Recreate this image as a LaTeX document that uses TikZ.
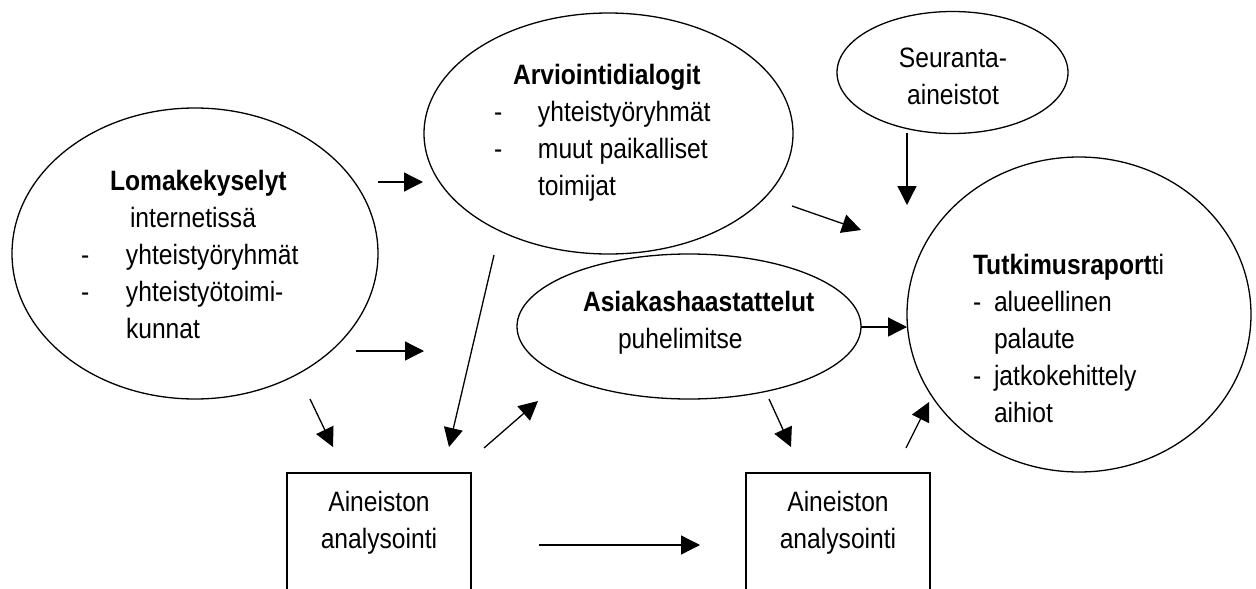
\documentclass[tikz,border=0pt]{standalone}
\usepackage{fontspec}
\setmainfont{Liberation Sans}[FakeStretch=0.88]
\usetikzlibrary{shapes.geometric,arrows.meta}
\tikzset{
  ell/.style={draw, ellipse, line width=1.3pt, inner sep=0pt, outer sep=0pt},
  anbox/.style={draw, rectangle, line width=1.3pt, inner sep=0pt, outer sep=0pt, minimum width=184pt, minimum height=160pt},
  txt/.style={inner sep=0pt, outer sep=0pt, align=left, font=\fontsize{28pt}{37pt}\selectfont},
  ctxt/.style={txt, align=center},
  arr/.style={line width=1.3pt, -{Triangle[length=19pt,width=19pt]}},
}
\begin{document}
\begin{tikzpicture}[x=1pt,y=-1pt]
\useasboundingbox (0,0) rectangle (1256,589);
\fill[white] (0,0) rectangle (1256,589);
\clip (0,0) rectangle (1256,589);

% shapes
\node[ell, minimum width=366pt, minimum height=291pt] (lom) at (195,253.5) {};
\node[ell, minimum width=369pt, minimum height=241pt] (arv) at (608.5,133.5) {};
\node[ell, minimum width=231pt, minimum height=122pt] (seu) at (952.5,72.5) {};
\node[ell, minimum width=344pt, minimum height=315pt] (tut) at (1079,314.5) {};
\node[ell, minimum width=344pt, minimum height=145pt] (asi) at (689,326.5) {};
\node[anbox] (an1) at (379,553) {};
\node[anbox] (an2) at (838,553) {};

% texts (base anchor = baseline of the last line)
\node[txt, anchor=base west] (lomt) at (81,338) {\hspace*{29pt}\textbf{Lomakekyselyt}\\ \hspace*{49pt}internetissä\\ \makebox[45pt][l]{-}yhteistyöryhmät\\ \makebox[45pt][l]{-}yhteistyötoimi-\\ \hspace*{45pt}kunnat};
\node[txt, anchor=base west] (arvt) at (494,195) {\hspace*{19pt}\textbf{Arviointidialogit}\\ \makebox[44pt][l]{-}yhteistyöryhmät\\ \makebox[44pt][l]{-}muut paikalliset\\ \hspace*{44pt}toimijat};
\node[ctxt, anchor=base] (seut) at (953,104) {Seuranta-\\aineistot};
\node[txt, anchor=base west] (tutt) at (973,422) {\textbf{Tutkimusraport}ti\\ \makebox[21pt][l]{-}alueellinen\\ \hspace*{21pt}palaute\\ \makebox[21pt][l]{-}jatkokehittely\\ \hspace*{21pt}aihiot};
\node[txt, anchor=base west] (asit) at (583,348) {\textbf{Asiakashaastattelut}\\ \hspace*{35pt}puhelimitse};
\node[ctxt, anchor=base] (an1t) at (379,548) {Aineiston\\analysointi};
\node[ctxt, anchor=base] (an2t) at (838,548) {Aineiston\\analysointi};

% connector end points
\coordinate (c1a) at (378,182);  \coordinate (c1b) at (423,182);
\coordinate (c2a) at (356,351);  \coordinate (c2b) at (424,351);
\coordinate (c3a) at (310,399);  \coordinate (c3b) at (333,447);
\coordinate (c4a) at (494,255);  \coordinate (c4b) at (449,447);
\coordinate (c5a) at (484,448);  \coordinate (c5b) at (538,401);
\coordinate (c6a) at (769,399);  \coordinate (c6b) at (791,447);
\coordinate (c7a) at (906,448);  \coordinate (c7b) at (929,402);
\coordinate (c8a) at (539,545);  \coordinate (c8b) at (700,545);
\coordinate (c9a) at (792,206);  \coordinate (c9b) at (861,230);
\coordinate (c10a) at (907,133); \coordinate (c10b) at (907,205);
\coordinate (c11a) at (861,327); \coordinate (c11b) at (907,327);

\draw[arr] (c1a) -- (c1b);
\draw[arr] (c2a) -- (c2b);
\draw[arr] (c3a) -- (c3b);
\draw[arr] (c4a) -- (c4b);
\draw[arr] (c5a) -- (c5b);
\draw[arr] (c6a) -- (c6b);
\draw[arr] (c7a) -- (c7b);
\draw[arr] (c8a) -- (c8b);
\draw[arr] (c9a) -- (c9b);
\draw[arr] (c10a) -- (c10b);
\draw[arr] (c11a) -- (c11b);
\end{tikzpicture}
\end{document}
